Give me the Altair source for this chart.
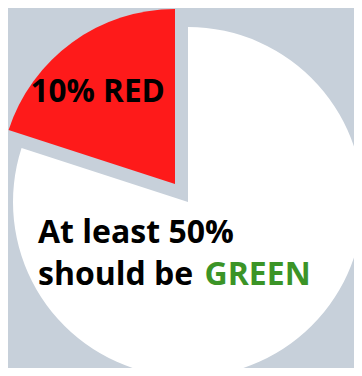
import altair as alt
import pandas as pd

# Data
slices = ["white", "red"]
shares = [80, 20]
slice_colors = ["#ffffff", "#fe1a1a"]

red_label = ["10% RED"]
line1 = ["At least 50%"]
line2_black = ["should be"]
line2_green = ["GREEN"]

df = pd.DataFrame({"slice": slices, "share": shares, "order": list(range(len(slices)))})

base = alt.Chart(df).transform_window(
    end="sum(share)", sort=[alt.SortField("order")]
).transform_calculate(start="datum.end - datum.share")

theta_scale = alt.Scale(domain=[0, 100], range=[0, 6.283185307179586])
color = alt.Color("slice:N", scale=alt.Scale(domain=slices, range=slice_colors), legend=None)

white = base.transform_filter("datum.slice == 'white'").mark_arc(radius=175).encode(
    theta=alt.Theta("start:Q", scale=theta_scale),
    theta2="end:Q",
    color=color,
    x=alt.value(180),
    y=alt.value(194),
)

red = base.transform_filter("datum.slice == 'red'").mark_arc(radius=175).encode(
    theta=alt.Theta("start:Q", scale=theta_scale),
    theta2="end:Q",
    color=color,
    x=alt.value(167),
    y=alt.value(176),
)

def label(txt, x, y, size, col):
    return alt.Chart(pd.DataFrame({"t": txt})).mark_text(
        font="Open Sans", fontWeight="bold", fontSize=size, align="left",
        baseline="alphabetic", color=col,
    ).encode(text="t:N", x=alt.value(x), y=alt.value(y))

t1 = label(red_label, 22.5, 93.7, 31.5, "#000000")
t2 = label(line1, 30, 234.7, 32, "#000000")
t3 = label(line2_black, 30, 277.3, 32, "#000000")
t4 = label(line2_green, 196.5, 277.3, 32, "#3b9427")

chart = alt.layer(white, red, t1, t2, t3, t4).properties(
    width=346, height=360, padding=0,
    autosize=alt.AutoSizeParams(type="none"),
    background="#c7d0da",
).configure_view(stroke=None)

chart.save("out.html", embed_options={"renderer": "svg", "actions": False})
